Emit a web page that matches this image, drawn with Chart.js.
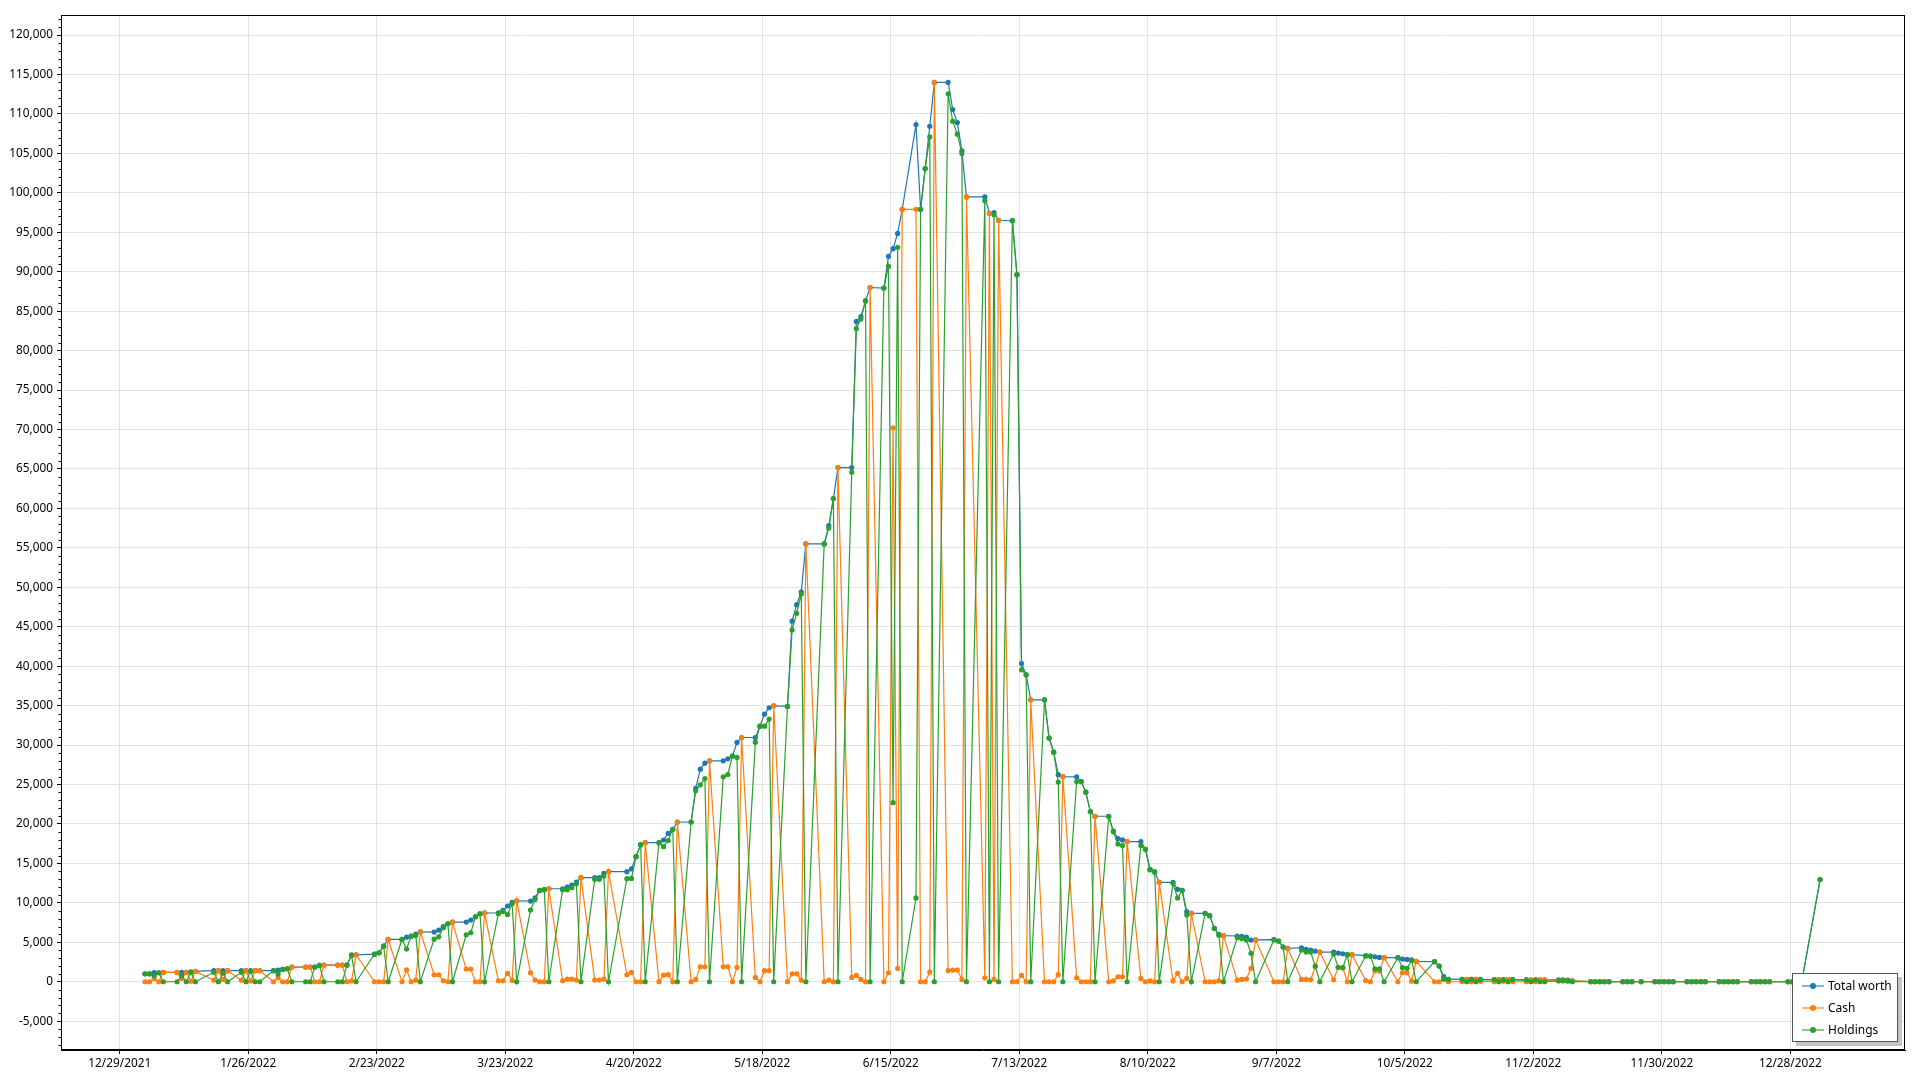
<!DOCTYPE html>
<html>
<head>
<meta charset="utf-8">
<script src="https://cdn.jsdelivr.net/npm/chart.js@4.4.1/dist/chart.umd.min.js"></script>
<style>
html,body{margin:0;padding:0;background:#fff;overflow:hidden;}
#wrap{position:relative;width:1920px;height:1080px;}
canvas{display:block;}
#legend{position:absolute;left:1792px;top:973px;width:104px;height:67px;border:1px solid #555;background:#fff;box-shadow:4px 4px 0 #c4c4c4;font-family:'Noto Sans',sans-serif;font-size:12px;color:#000;}
.row{position:absolute;left:0;width:100%;height:16px;line-height:16px;}
.sw{position:absolute;left:9px;top:7px;width:22px;height:2px;opacity:0.55;}
.dot{position:absolute;left:17px;top:5px;width:6px;height:6px;border-radius:50%;}
.lab{position:absolute;left:35px;top:0;white-space:nowrap;}
</style>
</head>
<body>
<div id="wrap">
<canvas id="c" width="1920" height="1080"></canvas>
<div id="legend"></div>
</div>
<script>
// ---- data (trading days) ----
const dates = [
'2022-01-03','2022-01-04','2022-01-05','2022-01-06','2022-01-07','2022-01-10','2022-01-11','2022-01-12','2022-01-13','2022-01-14','2022-01-18','2022-01-19','2022-01-20','2022-01-21','2022-01-24','2022-01-25','2022-01-26','2022-01-27','2022-01-28','2022-01-31',
'2022-02-01','2022-02-02','2022-02-03','2022-02-04','2022-02-07','2022-02-08','2022-02-09','2022-02-10','2022-02-11','2022-02-14','2022-02-15','2022-02-16','2022-02-17','2022-02-18','2022-02-22','2022-02-23','2022-02-24','2022-02-25','2022-02-28',
'2022-03-01','2022-03-02','2022-03-03','2022-03-04','2022-03-07','2022-03-08','2022-03-09','2022-03-10','2022-03-11','2022-03-14','2022-03-15','2022-03-16','2022-03-17','2022-03-18','2022-03-21','2022-03-22','2022-03-23','2022-03-24','2022-03-25','2022-03-28','2022-03-29','2022-03-30','2022-03-31',
'2022-04-01','2022-04-04','2022-04-05','2022-04-06','2022-04-07','2022-04-08','2022-04-11','2022-04-12','2022-04-13','2022-04-14','2022-04-18','2022-04-19','2022-04-20','2022-04-21','2022-04-22','2022-04-25','2022-04-26','2022-04-27','2022-04-28','2022-04-29',
'2022-05-02','2022-05-03','2022-05-04','2022-05-05','2022-05-06','2022-05-09','2022-05-10','2022-05-11','2022-05-12','2022-05-13','2022-05-16','2022-05-17','2022-05-18','2022-05-19','2022-05-20','2022-05-23','2022-05-24','2022-05-25','2022-05-26','2022-05-27','2022-05-31',
'2022-06-01','2022-06-02','2022-06-03','2022-06-06','2022-06-07','2022-06-08','2022-06-09','2022-06-10','2022-06-13','2022-06-14','2022-06-15','2022-06-16','2022-06-17','2022-06-20','2022-06-21','2022-06-22','2022-06-23','2022-06-24','2022-06-27','2022-06-28','2022-06-29','2022-06-30',
'2022-07-01','2022-07-05','2022-07-06','2022-07-07','2022-07-08','2022-07-11','2022-07-12','2022-07-13','2022-07-14','2022-07-15','2022-07-18','2022-07-19','2022-07-20','2022-07-21','2022-07-22','2022-07-25','2022-07-26','2022-07-27','2022-07-28','2022-07-29',
'2022-08-01','2022-08-02','2022-08-03','2022-08-04','2022-08-05','2022-08-08','2022-08-09','2022-08-10','2022-08-11','2022-08-12','2022-08-15','2022-08-16','2022-08-17','2022-08-18','2022-08-19','2022-08-22','2022-08-23','2022-08-24','2022-08-25','2022-08-26','2022-08-29','2022-08-30','2022-08-31',
'2022-09-01','2022-09-02','2022-09-06','2022-09-07','2022-09-08','2022-09-09','2022-09-12','2022-09-13','2022-09-14','2022-09-15','2022-09-16','2022-09-19','2022-09-20','2022-09-21','2022-09-22','2022-09-23','2022-09-26','2022-09-27','2022-09-28','2022-09-29','2022-09-30',
'2022-10-03','2022-10-04','2022-10-05','2022-10-06','2022-10-07','2022-10-11','2022-10-12','2022-10-13','2022-10-14','2022-10-17','2022-10-18','2022-10-19','2022-10-20','2022-10-21','2022-10-24','2022-10-25','2022-10-26','2022-10-27','2022-10-28','2022-10-31',
'2022-11-01','2022-11-02','2022-11-03','2022-11-04','2022-11-07','2022-11-08','2022-11-09','2022-11-10','2022-11-14','2022-11-15','2022-11-16','2022-11-17','2022-11-18','2022-11-21','2022-11-22','2022-11-23','2022-11-25','2022-11-28','2022-11-29','2022-11-30',
'2022-12-01','2022-12-02','2022-12-05','2022-12-06','2022-12-07','2022-12-08','2022-12-09','2022-12-12','2022-12-13','2022-12-14','2022-12-15','2022-12-16','2022-12-19','2022-12-20','2022-12-21','2022-12-22','2022-12-23','2022-12-27','2022-12-28','2022-12-29','2022-12-30',
'2023-01-03'
];

const totalWorth = [
1010,1010,1150,1140,1180,1180,1200,1200,1250,1310,1400,1400,1400,1400,1400,1400,1400,1400,1400,1400,
1480,1560,1650,1860,1860,1860,1860,2070,2110,2110,2110,2110,3420,3420,3500,3670,4510,5360,5360,
5650,5780,6050,6330,6300,6550,6980,7350,7570,7570,7820,8240,8620,8710,8750,9050,9600,10060,10270,10230,10650,11580,11670,
11790,11790,12000,12260,12640,13190,13190,13190,13740,13950,13950,14300,15850,17370,17630,17630,17970,18800,19320,20250,
20250,24500,26950,27700,28000,28000,28260,28600,30330,30960,30960,32400,33920,34730,34980,34900,45700,47800,49430,55500,55500,
57830,61250,65170,65170,83700,84300,86300,88000,87930,91950,92920,94860,97910,108650,97910,103070,108440,113990,113990,110560,108910,105310,
99480,99480,97410,97490,96520,96470,89620,40340,38910,35740,35740,30890,29100,26250,26000,25970,25380,24030,21570,20980,
20980,19100,18150,17980,17770,17770,16790,14250,13920,12600,12600,11720,11590,8880,8670,8670,8380,6770,6000,5840,5800,5750,5650,
5290,5320,5330,5160,4400,4230,4310,4100,4020,3890,3760,3760,3640,3550,3430,3430,3300,3260,3170,3090,3050,
3050,2880,2830,2790,2580,2540,2000,650,300,300,300,300,300,300,280,280,280,280,270,250,
250,250,250,240,250,250,200,100,20,20,20,20,20,20,20,20,20,20,20,20,
20,20,20,20,20,20,20,20,20,20,20,20,20,20,20,20,20,0,0,0,0,
12950
];

const cash = [
0,0,400,0,1180,1180,400,1200,80,1310,200,1400,300,1400,200,1400,100,1400,1400,0,
500,0,0,1860,1860,1860,0,0,2110,2110,2110,0,100,3420,0,0,0,5360,0,
1500,0,200,6330,890,890,130,0,7570,1610,1610,0,0,8710,130,130,1060,170,10270,1140,210,0,0,
11790,120,330,340,210,13190,210,210,340,13950,890,1200,0,0,17630,0,850,900,0,20250,
0,300,1900,1900,28000,1900,1900,0,1820,30960,550,0,1400,1400,34980,0,1000,1000,200,55500,0,
200,0,65170,550,800,300,0,88000,0,1140,70200,1690,97910,97910,0,0,1230,113990,1400,1480,1480,300,
99480,500,97410,300,96520,0,0,800,0,35740,0,0,0,900,26000,500,0,0,0,20980,
0,100,630,630,17770,420,0,100,0,12600,100,1060,0,420,8670,0,0,0,100,5840,200,300,350,
1700,5320,0,0,0,4230,300,300,250,1900,3760,250,1800,1750,0,3430,150,0,1350,1350,3050,
0,1140,1140,80,2580,0,0,300,0,0,300,0,300,50,0,280,50,280,0,0,
250,0,250,240,130,130,100,100,20,20,20,20,20,20,20,20,20,20,20,20,
20,20,20,20,20,20,20,20,20,20,20,20,20,20,20,20,20,0,0,0,0,
0
];

const holdings = [
1010,1010,750,1140,0,0,800,0,1170,0,1200,0,1100,0,1200,0,1300,0,0,1400,
980,1560,1650,0,0,0,1860,2070,0,0,0,2110,3320,0,3500,3670,4510,0,5360,
4150,5780,5850,0,5400,5700,6850,7350,0,5960,6210,8240,8620,0,8620,8920,8540,9890,0,9090,10440,11580,11670,
0,11670,11670,11920,12430,0,12980,12980,13400,0,13060,13100,15850,17370,0,17630,17120,17900,19320,0,
20250,24200,24960,25760,0,25970,26270,28600,28430,0,30370,32400,32400,33290,0,34900,44600,46700,49140,0,55500,
57530,61250,0,64580,82800,84000,86300,0,87930,90680,22700,93090,0,10620,97910,103070,107090,0,112550,109080,107430,104970,
0,99010,0,97230,0,96470,89620,39540,38910,0,35740,30890,29100,25320,0,25380,25380,24030,21570,0,
20940,19000,17470,17260,0,17260,16790,14170,13920,0,12480,10620,11590,8460,0,8670,8380,6770,5900,0,5580,5450,5290,
3600,0,5330,5160,4400,0,4020,3760,3760,1990,0,3510,1840,1800,3430,0,3260,3260,1650,1650,0,
3050,1780,1700,2710,0,2540,2000,350,300,300,0,300,0,250,280,0,230,0,270,250,
0,250,0,0,120,120,100,0,0,0,0,0,0,0,0,0,0,0,0,0,
0,0,0,0,0,0,0,0,0,0,0,0,0,0,0,0,0,0,0,0,0,
12950
];

const seriesNames = ['Total worth', 'Cash', 'Holdings'];
const xTickLabels = ['12/29/2021','1/26/2022','2/23/2022','3/23/2022','4/20/2022','5/18/2022','6/15/2022','7/13/2022','8/10/2022','9/7/2022','10/5/2022','11/2/2022','11/30/2022','12/28/2022'];
const yTickValues = [-5000,0,5000,10000,15000,20000,25000,30000,35000,40000,45000,50000,55000,60000,65000,70000,75000,80000,85000,90000,95000,100000,105000,110000,115000,120000];

// ---- helpers ----
const EPOCH = Date.UTC(2021, 11, 29);
const STAMP = 0.5; // records are stamped at mid-day
function isoDay(s){ const [y,m,d] = s.split('-').map(Number); return (Date.UTC(y,m-1,d)-EPOCH)/864e5; }
function mdyDay(s){ const [m,d,y] = s.split('/').map(Number); return (Date.UTC(y,m-1,d)-EPOCH)/864e5; }
const xTickDays = xTickLabels.map(mdyDay);
const pts = vals => dates.map((d,i) => ({x: isoDay(d)+STAMP, y: vals[i]}));

const BLUE = '#1f77b4', ORANGE = '#ff7f0e', GREEN = '#2ca02c';
const colors = [BLUE, ORANGE, GREEN];

Chart.defaults.font.family = "'Noto Sans', sans-serif";
Chart.defaults.font.size = 11.8;
Chart.defaults.color = '#000';

const frame = {
  id: 'frame',
  afterDraw(chart){
    const {ctx, chartArea:a, scales:{y}} = chart;
    ctx.save();
    ctx.strokeStyle = '#000';
    ctx.lineWidth = 1;
    ctx.strokeRect(Math.round(a.left)+0.5, Math.round(a.top)+0.5, Math.round(a.right-a.left)-1, Math.round(a.bottom-a.top)-1);
    ctx.beginPath();
    for (let v = -8000; v <= 122000; v += 1000) {
      if (v % 5000 === 0) continue;
      const py = Math.round(y.getPixelForValue(v)) + 0.5;
      ctx.moveTo(a.left - 2.5, py); ctx.lineTo(a.left, py);
    }
    ctx.stroke();
    ctx.restore();
  }
};

const gridOpts = {color:'#e3e3e3', tickColor:'#000', tickLength:4, lineWidth:1};

new Chart(document.getElementById('c'), {
  type: 'line',
  data: {
    datasets: [
      {label: seriesNames[0], data: pts(totalWorth), borderColor: BLUE, backgroundColor: BLUE, order: 3},
      {label: seriesNames[1], data: pts(cash), borderColor: ORANGE, backgroundColor: ORANGE, order: 2},
      {label: seriesNames[2], data: pts(holdings), borderColor: GREEN, backgroundColor: GREEN, order: 1}
    ]
  },
  options: {
    responsive: false,
    animation: false,
    devicePixelRatio: 1,
    events: [],
    layout: {padding: {top: 15, right: 15, left: 0, bottom: 0}},
    elements: {
      line: {borderWidth: 1.2, tension: 0, fill: false},
      point: {radius: 2.6, borderWidth: 0, hoverRadius: 2.6}
    },
    plugins: {legend: {display: false}, tooltip: {enabled: false}},
    scales: {
      x: {
        type: 'linear', min: -12.8, max: 389,
        afterBuildTicks: s => { s.ticks = xTickDays.map(v => ({value: v})); },
        afterFit: s => { s.height = 30; },
        ticks: {autoSkip: false, maxRotation: 0, padding: 3, callback: (v, i) => xTickLabels[i]},
        grid: gridOpts,
        border: {color: '#000'}
      },
      y: {
        min: -8650, max: 122540,
        afterBuildTicks: s => { s.ticks = yTickValues.map(v => ({value: v})); },
        afterFit: s => { s.width = 61; },
        ticks: {padding: 4, callback: v => v.toLocaleString('en-US')},
        grid: gridOpts,
        border: {color: '#000'}
      }
    }
  },
  plugins: [frame]
});

// legend (HTML, drawn over the plot like the reference)
const lg = document.getElementById('legend');
seriesNames.forEach((n, i) => {
  const r = document.createElement('div');
  r.className = 'row';
  r.style.top = (4 + i * 22) + 'px';
  r.innerHTML = '<span class="sw" style="background:' + colors[i] + '"></span><span class="dot" style="background:' + colors[i] + '"></span><span class="lab">' + n + '</span>';
  lg.appendChild(r);
});
</script>
</body>
</html>
